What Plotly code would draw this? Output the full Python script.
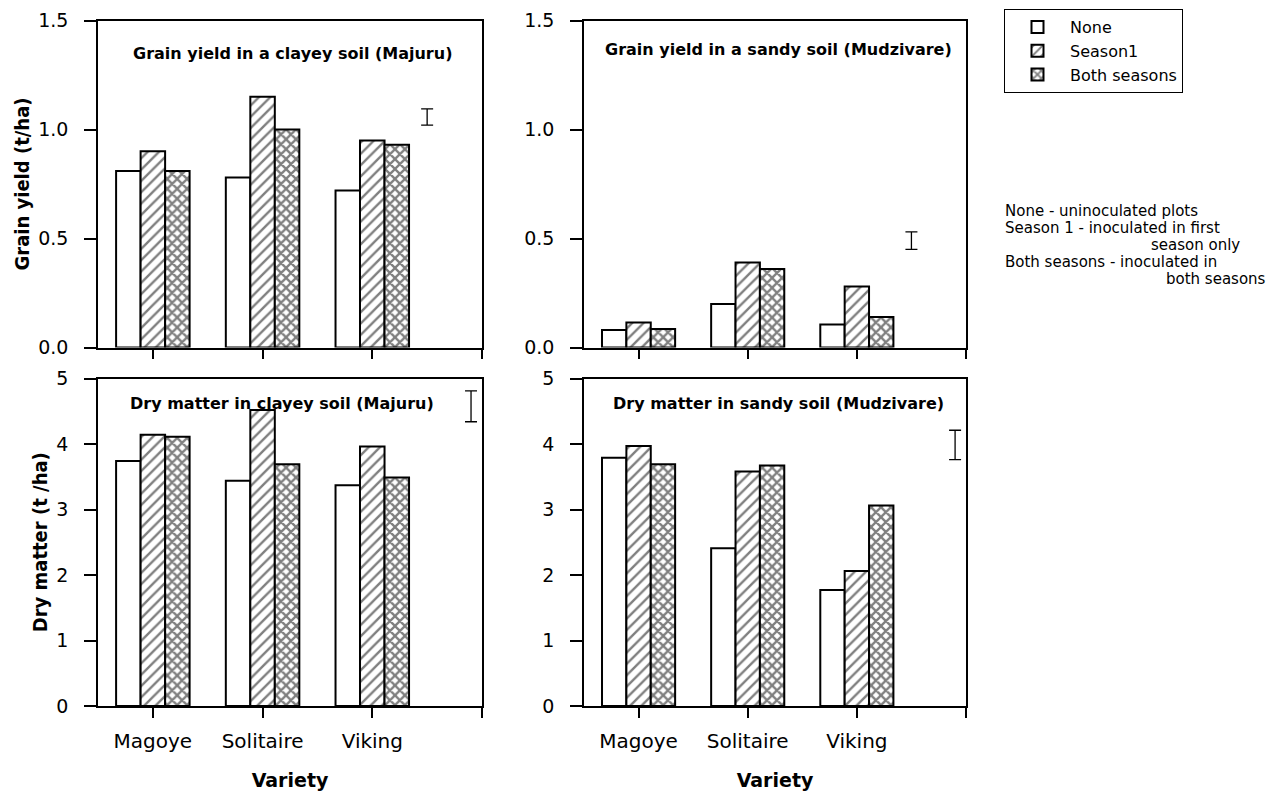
import plotly.graph_objects as go

# ---------------- data ----------------
varieties = ["Magoye", "Solitaire", "Viking"]
series = ["None", "Season1", "Both seasons"]

grain_clay_none = [0.81, 0.78, 0.72]
grain_clay_s1 = [0.90, 1.15, 0.95]
grain_clay_both = [0.81, 1.00, 0.93]

grain_sand_none = [0.08, 0.20, 0.105]
grain_sand_s1 = [0.115, 0.39, 0.28]
grain_sand_both = [0.085, 0.36, 0.14]

dm_clay_none = [3.74, 3.44, 3.37]
dm_clay_s1 = [4.14, 4.52, 3.96]
dm_clay_both = [4.11, 3.69, 3.49]

dm_sand_none = [3.79, 2.41, 1.77]
dm_sand_s1 = [3.97, 3.58, 2.06]
dm_sand_both = [3.69, 3.67, 3.06]

# LSD bars (low, high) and their x position on the variety axis
lsd_grain_clay = (1.02, 1.095)
lsd_grain_sand = (0.45, 0.53)
lsd_dm_clay = (4.34, 4.81)
lsd_dm_sand = (3.76, 4.21)
lsd_x_top = 2.5
lsd_x_bottom = 2.9

panel_titles = [
    "Grain yield in a clayey soil (Majuru)",
    "Grain yield in a sandy soil (Mudzivare)",
    "Dry matter in clayey soil (Majuru)",
    "Dry matter in sandy soil (Mudzivare)",
]
note_lines = [
    "None - uninoculated plots",
    "Season 1 - inoculated in first",
    "season only",
    "Both seasons - inoculated in",
    "both seasons",
]
y_title_top = "Grain yield (t/ha)"
y_title_bottom = "Dry matter (t /ha)"
x_title = "Variety"

# ---------------- figure ----------------
W, H = 1280, 796
TICK_FONT = dict(family="DejaVu Sans", size=19, color="black")
BOLD = dict(family="DejaVu Sans", size=16, color="black", weight="bold")
NARROW_BOLD = dict(family="Liberation Sans Narrow, DejaVu Sans Condensed, Roboto Condensed, Liberation Sans, sans-serif",
                   size=20, color="black", weight="bold")

fig = go.Figure()

patterns = [
    dict(shape="", fillmode="overlay", bgcolor="white"),
    dict(shape="/", fillmode="overlay", fgcolor="black", bgcolor="white", size=8, solidity=0.3),
    dict(shape="x", fillmode="overlay", fgcolor="black", bgcolor="white", size=7, solidity=0.55),
]

panels = [
    ("x", "y", [grain_clay_none, grain_clay_s1, grain_clay_both], lsd_grain_clay, lsd_x_top),
    ("x2", "y2", [grain_sand_none, grain_sand_s1, grain_sand_both], lsd_grain_sand, lsd_x_top),
    ("x3", "y3", [dm_clay_none, dm_clay_s1, dm_clay_both], lsd_dm_clay, lsd_x_bottom),
    ("x4", "y4", [dm_sand_none, dm_sand_s1, dm_sand_both], lsd_dm_sand, lsd_x_bottom),
]

xpos = list(range(len(varieties)))
for pi, (xa, ya, vals, lsd, lx) in enumerate(panels):
    for si, name in enumerate(series):
        fig.add_trace(go.Bar(
            x=xpos, y=vals[si], name=name, xaxis=xa, yaxis=ya,
            legendgroup=name, showlegend=(pi == 0),
            marker=dict(color="white", line=dict(color="black", width=2),
                        pattern=patterns[si]),
        ))
    lo, hi = lsd
    fig.add_trace(go.Scatter(
        x=[lx], y=[(lo + hi) / 2], xaxis=xa, yaxis=ya, mode="markers",
        marker=dict(size=1, color="rgba(0,0,0,0)"), showlegend=False,
        error_y=dict(type="data", array=[(hi - lo) / 2], color="black",
                     thickness=1.3, width=6),
        hoverinfo="skip",
    ))

xL = [98 / W, 482 / W]
xR = [584 / W, 966 / W]
yT = [1 - 347.5 / H, 1 - 20.5 / H]
yB = [1 - 706 / H, 1 - 378.5 / H]

common_x = dict(range=[-0.5, 3.0], tickvals=[0, 1, 2, 3], ticks="outside", ticklen=10,
                tickwidth=1.5, tickcolor="black", showline=True, linecolor="black",
                linewidth=1.5, mirror=True, showgrid=False, zeroline=False,
                tickfont=dict(TICK_FONT, size=20), fixedrange=True, automargin=False)
common_y = dict(ticks="outside", ticklen=12, tickwidth=1.5, tickcolor="black",
                showline=True, linecolor="black", linewidth=1.5, mirror=True,
                showgrid=False, zeroline=False, tickfont=TICK_FONT,
                ticklabelstandoff=12, fixedrange=True, automargin=False)

x_top = dict(common_x, ticktext=["", "", "", ""])
x_bot = dict(common_x, ticktext=varieties + [""], ticklabelstandoff=6,
             title=dict(text=x_title, font=dict(family="DejaVu Sans", size=19, color="black", weight="bold"),
                        standoff=22))
y_top = dict(common_y, range=[0, 1.5], tickvals=[0, 0.5, 1.0, 1.5], tickformat=".1f")
y_bot = dict(common_y, range=[0, 5], tickvals=[0, 1, 2, 3, 4, 5])

fig.update_layout(
    width=W, height=H, margin=dict(l=0, r=0, t=0, b=0, autoexpand=False),
    paper_bgcolor="white", plot_bgcolor="white",
    barmode="group", bargap=0.33, bargroupgap=0,
    xaxis=dict(x_top, domain=xL, anchor="y"),
    yaxis=dict(y_top, domain=yT, anchor="x",
               title=dict(text=y_title_top, font=NARROW_BOLD, standoff=3)),
    xaxis2=dict(x_top, domain=xR, anchor="y2"),
    yaxis2=dict(y_top, domain=yT, anchor="x2"),
    xaxis3=dict(x_bot, domain=xL, anchor="y3"),
    yaxis3=dict(y_bot, domain=yB, anchor="x3",
                title=dict(text=y_title_bottom, font=NARROW_BOLD, standoff=3)),
    xaxis4=dict(x_bot, domain=xR, anchor="y4"),
    yaxis4=dict(y_bot, domain=yB, anchor="x4"),
    legend=dict(x=1004 / W, y=1 - 9 / H, xanchor="left", yanchor="top",
                bordercolor="black", borderwidth=1, bgcolor="white",
                font=dict(family="DejaVu Sans", size=16, color="black"),
                tracegroupgap=0, itemwidth=55),
    showlegend=True,
)

# panel titles
title_pos = [(292, 53), (778, 50), (282, 403), (778, 403)]
for t, (px, py) in zip(panel_titles, title_pos):
    fig.add_annotation(text=t, x=px / W, y=1 - py / H, xref="paper", yref="paper",
                       showarrow=False, font=BOLD, xanchor="center", yanchor="middle")

# side note
note_pos = [(1003, 211, "left"), (1003, 228, "left"), (1242, 245, "right"),
            (1003, 262, "left"), (1268, 279, "right")]
for t, (px, py, anc) in zip(note_lines, note_pos):
    fig.add_annotation(text=t, x=px / W, y=1 - py / H, xref="paper", yref="paper",
                       showarrow=False, xanchor=anc, yanchor="middle",
                       font=dict(family="DejaVu Sans", size=15, color="black"))

fig.write_html("out.html")
